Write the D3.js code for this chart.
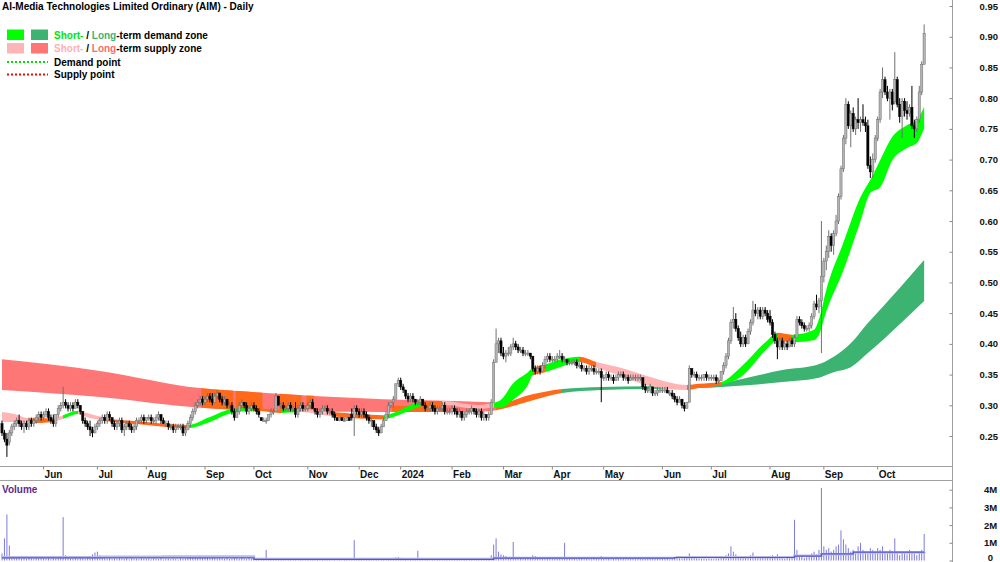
<!DOCTYPE html>
<html><head><meta charset="utf-8">
<script src="https://cdn.jsdelivr.net/npm/d3@7/dist/d3.min.js"></script>
<style>
html,body{margin:0;padding:0;background:#fff;}
svg{display:block;font-family:"Liberation Sans",Arial,sans-serif;}
</style></head><body>
<svg id="c" width="1000" height="562"></svg>
<script>
// ---------- DATA (prices in cents: [open, high, low, close]) ----------
const may23 = [[27,27.5,25,25.5],[25.5,26,24,24.5],[24.5,25.5,21.6,23.5],[24,26,23.5,25.5],[25.5,27,25,26.5],[26.5,27.5,26,27],[27,28,26.5,27.5],[27.5,28.5,26.5,27],[27,27.5,26,26.5],[26.5,27.5,25.5,27],[27,27.5,26,26.5],[26.5,28,26,27.5],[27.5,28,26.5,27],[27,28,26.5,27.5],[27.5,28.5,27,28],[28,29,27.5,28.5],[28.5,29,27.5,28]];
const jun23 = [[28,29,27.5,28.5],[28.5,29.5,28,29],[29,29.5,27.5,28],[28,28.5,27,27.5],[27.5,28.5,26.5,27],[27,28.5,26.5,28.5],[28.5,30,28,29.5],[29.5,30.5,29,30],[30,33,29.5,30.5],[30.5,31,29.5,30],[30,30.5,29,29.5],[29.5,30.5,29,30],[30,30.5,29,29.5],[29.5,31,29.5,30.5],[30.5,31,29.5,30],[30,30,28.5,29],[29,29,27,27.5],[27.5,28,26.5,27],[27,27.5,26,26.5],[26.5,27.5,25,26],[26,26.5,24.8,25.5],[25.5,27,25.5,26.5]];
const jul23 = [[26.5,27.5,26,27],[27,28,26.5,27.5],[27.5,28.5,27,28],[28,28.5,27,27.5],[27.5,29,27,28.5],[28.5,29,27.5,28],[28,28,26.5,27],[27,27.5,26,26.5],[26.5,27.5,26,27],[27,28,26.5,27.5],[27.5,28,25.5,26],[26,27,25,26.5],[26.5,27.5,26,27],[27,27.5,26,26.5],[26.5,27,25.5,26],[26,27,25.5,26.5],[26.5,28,26,27.5],[27.5,28,27,27.5],[27.5,28.5,27,28],[28,28.5,27,27.5]];
const aug23 = [[27.5,28,27,28],[28,28.5,27.5,28],[28,28.5,27,27.5],[27.5,28,27,27.5],[27.5,28.5,27,28],[28,29,27.5,28.5],[28.5,28.5,27,27.5],[27.5,28,27,27],[27,27.5,26.5,27],[27,27.5,26,26.5],[26.5,27,26,26.5],[26.5,27,25.5,26],[26,27,25.5,26.5],[26.5,27,26,26.5],[26.5,27,26,26.5],[26.5,27,25,25.5],[25.5,26.5,25,26],[26,27.5,26,27],[27,28.5,26.5,28],[28,29.5,27.5,29],[29,30.5,28.5,30],[30,31,29.5,30.5],[30.5,31.5,30,31],[31,31.5,30,30.5]];
const sep23 = [[30.5,31.5,30,31],[31,32,30.5,31.5],[31.5,32,30.5,31],[31,32,30,30.5],[30.5,32,30.5,31.5],[31.5,32.5,31,32],[32,32,30.5,31],[31,31.5,30,30.5],[30.5,31.5,30,31],[31,31,29.5,30],[30,30.5,29.5,30],[30,30.5,28.5,29],[29,29.5,27.5,28],[28,29.5,28,29],[29,30.5,28.5,30],[30,31,29.5,30.5],[30.5,30.5,29.5,30],[30,30.5,28.5,29],[29,30,28.5,29.5],[29.5,30.5,29,30]];
const oct23 = [[30,30.5,29,29.5],[29.5,30,28.5,29],[29,29.5,28,28.5],[28,28,27.5,27.5],[27.5,28,27.5,27.5],[27.5,28,27,27.5],[27.5,28.5,27.5,28.5],[28.5,29.5,28,29],[29,29.5,28.5,29],[29,32,29,31.5],[31.5,31.5,30,30],[30,30.5,29.5,30],[30,30.5,29,29.5],[29.5,30,29,29.5],[29.5,30.5,29,30],[30,30.5,29,29.5],[29.5,30,29,29.5],[29.5,30.5,28,28.5],[28.5,30,28,29.5],[29.5,30.5,29,30],[30,30.5,29,29.5],[29.5,30,29,29.5]];
const nov23 = [[29.5,30.5,29,30],[30,31,29.5,30.5],[30.5,31,29.5,29.5],[29.5,29.5,28.5,29],[29,29.5,28,28.5],[28.5,29.5,28,29],[29,30,28.5,29.5],[29.5,30,29,29.5],[29.5,30,28.5,29],[29,29.5,28.5,29],[29,29.5,28,28.5],[28.5,29,27.5,28],[28,28,27.5,27.5],[27.5,28,27.5,28],[28,28,27.5,27.5],[27.5,28,27.5,27.5],[27.5,28,27.5,28],[28,28,27.5,27.5],[28.5,29.5,27.5,28],[28,30,25,29.5],[29.5,30,28.5,29]];
const dec23 = [[29,29.5,28,28.5],[28.5,29.5,28,29],[29,29.5,28,28.5],[28.5,29,27.5,28],[28,28.5,27,27.5],[27.5,28,26.5,27.5],[27.5,27.5,26,26.5],[26.5,27,25.5,26],[26,26.5,25,25.5],[25.5,27,25.5,26.5],[26.5,28,26.5,27.5],[27.5,29,27.5,28.5],[28.5,30.5,28,30],[30,30.5,29.5,30.5],[30.5,31.5,29.5,31],[31,33.5,31,33.5],[33.5,34.5,33,34]];
const jan24 = [[34,34.5,32.5,33],[33,33.5,32,32.5],[32.5,32.5,31,31.5],[31.5,32,30.5,31],[31,32,30.5,31.5],[31.5,32,30.5,31],[31,31,30,30.5],[30.5,31,30,30.5],[30.5,31.5,30,31],[31,31,30,30],[30,30.5,29,29.5],[29.5,30,29,29.5],[29.5,30.5,29,30],[30,30.5,29,29.5],[29.5,30,28.5,29],[29,30,28.5,29.5],[29.5,30,29,29.5],[29.5,30.5,29,30],[30,30.5,28.5,29],[29,29.5,28.5,29],[29,29.5,28.5,29]];
const feb24 = [[29,30,28.5,29.5],[29.5,30,28.5,29],[29,29.5,28,28.5],[28.5,29.5,28,29],[29,29,27.5,28],[28,29,27.5,28.5],[28.5,29.5,28,29],[29,29.5,28.5,29],[29,30,28.5,29.5],[29.5,29.5,28.5,29],[29,29.5,28,28.5],[28.5,29.5,28,29],[29,29.5,27.5,28],[28,29,27.5,28.5],[28.5,28.5,27.5,28],[28,29,27.5,28.5],[28.5,31,28.5,30.5],[30.5,37.5,30.5,37],[37,42.5,37,40],[40,41,38.5,40.5],[40.5,41,38,38.5]];
const mar24 = [[38.5,39.5,37.5,38],[38,39,37,38.5],[38.5,39.5,38,38.5],[38.5,40,38,39.5],[39.5,41,39,40],[40,40.5,39,39.5],[39.5,40,38.5,39],[39,39.5,38.5,39],[39,39.5,38,38.5],[38.5,39,38,38.5],[38.5,39,38,38.5],[38.5,38.5,37.5,38],[38,38,35.5,36],[36,36.5,35,35.5],[35.5,36.5,35,36],[36,36.5,35,35.5],[35.5,37,35.5,36.5],[36.5,38,36,37.5],[37.5,38.5,37,38],[38,38.5,37,37.5]];
const apr24 = [[37.5,38,37,37.5],[37.5,38,37,37.5],[37.5,38.5,37,38],[38,39,37.5,38],[38,38.5,37,37.5],[37.5,38,37,37.5],[37.5,37.5,36.5,37],[37,37.5,36.5,37],[37,37.5,36.5,37],[37,37.5,36.5,37],[37,37.5,36,36.5],[36.5,37,36,36.5],[36.5,37,35.5,36],[36,36.5,35.5,36],[36,36.5,35,35.5],[35.5,36.5,35,36],[36,36.5,35.5,36],[36,36.5,35,35.5],[35.5,36,35,35.5],[35.5,36,35,35.5],[35.5,36,30.5,34.5]];
const may24 = [[34.5,35,34,34.5],[34.5,35.5,34,35],[35,35.5,34,34.5],[34.5,35,34,34.5],[34.5,35,33.5,34],[34,35,34,34.5],[34.5,35.5,34,35],[35,35.5,34.5,35],[35,35.5,34,34.5],[34.5,35,34,34.5],[34.5,35,33.5,34],[34,35,34,34.5],[34.5,35,34,34.5],[34.5,35,34,34.5],[34.5,35,34,34.5],[34.5,35,34,34.5],[34.5,34.5,32.5,33],[33,33.5,32,32.5],[32.5,33,32,32.5],[32.5,33.5,32,33],[33,33,31.5,32],[32,32.5,31.5,32],[32,33,31.5,32.5],[32.5,33,32,32.5]];
const jun24 = [[32.5,33,32,32.5],[32.5,33,32,32.5],[32.5,33,32,32],[32,32.5,31.5,32],[32,32.5,31,31.5],[31.5,32,30.5,31],[31,31.5,30,30.5],[30.5,31.5,30.5,31],[31,31,29.5,30],[30,30.5,29,29.5],[29.5,30.5,29.5,30.5],[30.5,36.5,30.5,36],[36,36,34.5,35],[35,35.5,34.5,35],[35,35.5,34,34.5],[34.5,35,34,34.5],[34.5,35,34,34.5],[34.5,35,34,35],[35,35.5,34,34.5],[34.5,35,34,34.5]];
const jul24 = [[34.5,35,34,34.5],[34.5,35,34,34.5],[34.5,35,33.5,34],[34,34.5,33.5,34],[34,35.5,34,35.5],[35.5,37,35,36.5],[36.5,38.5,36,38],[38,41,37.5,40.5],[40.5,44,40,43.5],[43.5,46,42.5,44],[44,45,42,42.5],[42.5,43,40.5,41],[41,42,39.5,40],[40,41.5,39.5,41],[41,41.5,39.5,40],[40,42.5,40,42],[42,44,41.5,43.5],[43.5,47,43,45.5],[45.5,46.5,44.5,45],[45,46,44,45.5],[45.5,46,44,44.5],[44.5,46,44,45.5],[45.5,46,44.5,45],[45,45.5,43.5,44]];
const aug24 = [[44.5,45.5,43,43.5],[43.5,44,41,41.5],[41.5,42,40,40.5],[40.5,41,37.5,39.5],[39.5,41,39,40.5],[40.5,41,39,39.5],[39.5,40.5,39,40],[40,40.5,39,39.5],[39.5,41,39.5,40.5],[40.5,41,39.5,40],[40,41.5,39.5,41],[41,44.5,41,44],[44,44.5,43,43.5],[43.5,44,42.5,43],[43,43.5,42,42.5],[42.5,43,42,42.5],[42.5,43.5,42,43],[43,45,42.5,44.5],[44.5,47,44,46.5],[46.5,48,45.5,46],[46,47.5,45,47],[47,60,38.5,51]];
const sep24 = [[51,54,50,53.5],[53.5,56,52,55],[55,58.5,54,57.5],[57.5,58,55,56],[56,58.5,54.5,58],[58,61,57.5,60],[60,64.5,59.5,64],[64,69,63.5,68.5],[68.5,74,68,73.5],[73.5,80,72.5,79],[79,79.5,75,75.5],[75.5,78,72,77.5],[77.5,78.5,74.5,75],[75,77,74,76.5],[76.5,80,75,76],[76,77,74.5,76.5],[76.5,79,75.5,76],[76,77,74.5,75.5],[75.5,76.5,68.5,69],[69,70.5,67,68],[68,71,67,70],[70,74,69.5,73.5]];
const oct24 = [[73.5,77,73,76.5],[76.5,81.5,76,81],[81,85,80,83],[83,83.5,80.5,81],[81,82,79.5,80],[80,81.5,76.5,81],[81,81.5,78,79],[79.5,87.5,79,83],[83,83.5,78.5,79],[79,80,76,77],[77,80,73.5,79.5],[79.5,80,77,78],[78,79.5,76.5,77.5],[77.5,79,77,78.5],[78.5,82,75,75.5],[75.5,76.5,73.5,75],[75,77,74.5,76.5],[76.5,82,76,81],[81,86,80.5,85.5],[85.5,92,85.5,90.5]];

// month labels (first label = partial May 2023, not shown)
const monthLabels = ["", "Jun","Jul","Aug","Sep","Oct","Nov","Dec","2024","Feb","Mar","Apr","May","Jun","Jul","Aug","Sep","Oct"];

// volumes, thousands of shares
const volMay23 = [400,1250,2600,850,200,150,120,180,100,150,90,200,120,80,150,100,130];
const volJun23 = [110,90,140,80,120,100,160,200,2450,300,150,120,100,180,90,140,120,80,200,150,350,450];
const volJul23 = [500,300,150,120,100,140,90,110,80,120,100,90,130,70,110,90,100,80,120,100];
const volAug23 = [90,110,70,120,100,80,130,60,90,100,70,110,80,60,120,90,100,150,180,200,160,140,190,170];
const volSep23 = [150,180,120,160,140,110,130,100,90,120,80,100,150,110,90,130,100,80,120,90];
const volOct23 = [70,60,40,30,50,600,80,60,120,90,50,40,60,30,50,70,40,60,50,40,30,60];
const volNov23 = [40,60,30,50,40,30,60,50,40,30,20,40,20,30,20,40,30,20,60,1150,80];
const volDec23 = [50,40,60,30,40,50,30,60,40,70,80,90,120,100,150,180,200];
const volJan24 = [150,120,90,80,100,70,60,550,90,60,50,40,60,30,50,40,60,30,40,50,30];
const volFeb24 = [40,30,50,30,60,40,30,50,40,30,60,40,50,30,40,60,300,900,1250,500,350];
const volMar24 = [300,250,200,150,1050,200,180,150,120,100,140,90,300,250,150,100,120,110,90,80];
const volApr24 = [100,90,120,80,110,1000,150,90,80,100,70,90,110,80,120,90,70,100,80,90,250];
const volMay24 = [100,80,90,70,110,90,80,120,100,70,90,80,100,70,90,80,110,100,200,150,120,90,110,100];
const volJun24 = [90,80,100,70,90,110,80,120,100,150,200,400,250,150,120,100,90,110,80,100];
const volJul24 = [90,80,100,120,200,250,300,400,800,500,350,250,200,150,180,250,300,450,250,200,180,150,200,160];
const volAug24 = [250,300,200,350,150,120,100,150,130,180,2300,600,300,200,150,180,250,400,500,350,600,4100];
const volSep24 = [800,600,700,500,600,800,900,1700,1200,900,700,500,600,400,800,1000,600,500,400,700,600,500];
const volOct24 = [700,600,800,500,400,600,500,1250,400,300,500,400,350,600,500,400,300,500,600,1500];

// volume averages [candle index, thousands]
const volAvgDark  = [[0,150],[66,150],[103,60],[201,130],[275,170],[324,250],[335,370],[348,470],[377,480]];
const volAvgLight = [[0,180],[40,210],[66,230],[103,80],[201,140],[276,185],[324,265],[335,360],[348,455],[377,500]];

// zones: [candle index, top (cents), bottom (cents), type of following segment]
const shortZone = [[0,28.9,27.3,"SS"],[5,28.6,27.3,"SS"],[11,27.9,27.1,"OR"],[21,27.9,27.3,"SS"],[25,28.4,27.8,"SD"],[31,29.1,28.6,"SS"],[33,28.9,28.3,"SS"],[43,27.9,27.4,"OR"],[56,27.4,26.9,"OR"],[76,26.8,26.3,"SD"],[85,28.1,27.3,"SD"],[94,29.4,28.75,"SD"],[103,29.6,29.1,"OR"],[114,29.2,28.75,"SD"],[122,29.4,28.9,"SS"],[135,28.9,28.2,"OR"],[156,28.4,27.7,"SD"],[160,28.75,28.1,"SD"],[167,30.05,29.2,"SD"],[172,30.7,29.9,"OR"],[180,30.7,30.05,"SS"],[195,30.05,29.4,"SS"],[201,30.4,29.6,"SD"],[204,30.9,29.6,"SD"],[209,33.6,30.9,"SD"],[215,35.4,33.3,"SD"],[217,36.1,34.9,"OR"],[222,36.6,35.4,"SD"],[228,37.4,36.2,"SD"],[236,37.9,37.05,"OR"],[243,37.05,36.1,"SS"],[253,36.1,34.8,"SS"],[265,34.6,33.1,"SS"],[280,33.3,32.5,"OR"],[285,33.5,32.8,"OR"],[294,33.8,33.3,"SD"],[302,36.2,34.6,"SD"],[313,40.6,39.3,"SD"],[317,41.8,40.6,"OR"],[323,41.5,40.3,"SD"],[332,42.3,40.6,"SD"],[334,44,41.5,"SD"],[337,48.8,45.3,"SD"],[344,56.5,52,"SD"],[351,63.9,60,"SD"],[355,66.7,64.6,"SD"],[359,69.9,65.5,"SD"],[364,73.7,69.9,"SD"],[370,75.6,71.9,"SD"],[374,76.4,72.7,"SD"],[377,78.6,75.1,"SD"]];
const longZone = [[0,37.5,32.5,"LS"],[40,35.6,31.35,"LS"],[81,32.8,29.6,"LS"],[101,32.2,29.2,"LS"],[156,31.0,28.9,"LS"],[199,30.5,29.05,"LS"],[202,30.2,29.2,"OR"],[216,31.7,30.7,"OR"],[229,32.65,32.0,"LD"],[245,33.0,32.5,"LD"],[265,33.1,32.65,"LD"],[285,33.3,32.8,"LD"],[294,33.6,33.0,"LD"],[306,34.6,33.3,"LD"],[319,35.75,33.8,"LD"],[333,36.55,34.4,"LD"],[340,37.9,35.4,"LD"],[347,40.1,36.2,"LD"],[354,43.4,38.5,"LD"],[360,46.0,40.6,"LD"],[367,49.1,43.2,"LD"],[377,53.65,47.0,"LD"]];
// overlap strips inside long-term zone: [from index, to index, fraction of band height]
const longOverlap = [[82,94,1],[96,106,1],[114,116,1],[117,119,1],[120,122,1],[125,127,1],[160,180,0.5]];

const priceTicks = [25,30,35,40,45,50,55,60,65,70,75,80,85,90,95];
const volTicks = [0,1000,2000,3000,4000];

// ---------- CHART ----------
const zoneColor = {SS:"#ffb5b5", LS:"#ff7676", SD:"#00ff00", LD:"#3cb371", OR:"#ff6a1a"};
const svg = d3.select("#c");
const monthData = [may23,jun23,jul23,aug23,sep23,oct23,nov23,dec23,jan24,feb24,mar24,apr24,may24,jun24,jul24,aug24,sep24,oct24];
const candles = monthData.flat().map((d,i)=>({i,o:d[0],h:d[1],l:d[2],c:d[3]}));
const volumes = [volMay23,volJun23,volJul23,volAug23,volSep23,volOct23,volNov23,volDec23,volJan24,volFeb24,volMar24,volApr24,volMay24,volJun24,volJul24,volAug24,volSep24,volOct24].flat();
const N = candles.length;

const x = d3.scaleLinear().domain([0, N-1]).range([2, 2 + 2.446*(N-1)]);
const yP = d3.scaleLinear().domain([20.12, 95.98]).range([466, 0]);
const yV = d3.scaleLinear().domain([0, 4000]).range([560.5, 489.7]);

const defs = svg.append("defs");
defs.append("clipPath").attr("id","cpP").append("rect").attr("x",0).attr("y",0).attr("width",952).attr("height",466);
defs.append("clipPath").attr("id","cpV").append("rect").attr("x",0).attr("y",481).attr("width",952).attr("height",81);

function makeGrad(id, samples){
  const g = defs.append("linearGradient").attr("id",id).attr("gradientUnits","userSpaceOnUse")
    .attr("x1",0).attr("x2",1000).attr("y1",0).attr("y2",0);
  for(let k=0;k<samples.length-1;k++){
    const col = zoneColor[samples[k][3]];
    g.append("stop").attr("offset", x(samples[k][0])/1000).attr("stop-color",col);
    g.append("stop").attr("offset", x(samples[k+1][0])/1000).attr("stop-color",col);
  }
}
makeGrad("gLong", longZone);
makeGrad("gShort", shortZone);

const plot = svg.append("g").attr("clip-path","url(#cpP)");
const area = d3.area().x(d=>x(d[0])).y0(d=>yP(d[2])).y1(d=>yP(d[1])).curve(d3.curveMonotoneX);
plot.append("path").attr("d", area(longZone)).attr("fill","url(#gLong)");

// overlap strips
longOverlap.forEach((o,k)=>{
  defs.append("clipPath").attr("id","ov"+k).append("rect")
    .attr("x", x(o[0])-1.2).attr("y",0).attr("width", x(o[1])-x(o[0])+2.4).attr("height",466);
  const a = d3.area().x(d=>x(d[0])).y0(d=>yP(d[2])).y1(d=>yP(d[2] + o[2]*(d[1]-d[2]))).curve(d3.curveMonotoneX);
  plot.append("path").attr("d", a(longZone)).attr("fill", zoneColor.OR).attr("clip-path","url(#ov"+k+")");
});

plot.append("path").attr("d", area(shortZone)).attr("fill","url(#gShort)");

// candles
const cg = plot.append("g");
candles.forEach(d=>{
  const up = d.c >= d.o;
  const cx = x(d.i);
  cg.append("line").attr("x1",cx).attr("x2",cx).attr("y1",yP(d.h)).attr("y2",yP(d.l))
    .attr("stroke", up ? "#707070" : "#000").attr("stroke-width",1);
  const top = yP(Math.max(d.o,d.c)), bot = yP(Math.min(d.o,d.c));
  const hgt = Math.max(bot-top, 1);
  cg.append("rect").attr("x",cx-1.1).attr("width",2.2).attr("y",top).attr("height",hgt)
    .attr("fill", up ? "#b4b4b4" : "#000").attr("stroke", up ? "#6e6e6e" : "#000").attr("stroke-width",0.5);
});

// volume
const vg = svg.append("g").attr("clip-path","url(#cpV)");
volumes.forEach((v,i)=>{
  vg.append("line").attr("x1",x(i)).attr("x2",x(i)).attr("y1",yV(0)).attr("y2",yV(v))
    .attr("stroke","#7b7bdc").attr("stroke-width",1);
});
const vLine = d3.line().x(d=>x(d[0])).y(d=>yV(d[1])).curve(d3.curveStepAfter);
vg.append("path").attr("d", vLine(volAvgLight)).attr("fill","none").attr("stroke","#b9b9ec").attr("stroke-width",2.5);
vg.append("path").attr("d", vLine(volAvgDark)).attr("fill","none").attr("stroke","#5555c8").attr("stroke-width",1.2);

// frame lines
svg.append("line").attr("x1",0).attr("x2",952).attr("y1",466.5).attr("y2",466.5).attr("stroke","#a0a0a0");
svg.append("line").attr("x1",0).attr("x2",952).attr("y1",480.5).attr("y2",480.5).attr("stroke","#a0a0a0");
svg.append("line").attr("x1",952.5).attr("x2",952.5).attr("y1",0).attr("y2",562).attr("stroke","#a0a0a0");

// price axis
const pa = svg.append("g").attr("transform","translate(952.5,0)")
  .call(d3.axisRight(yP).tickValues(priceTicks).tickFormat(d=>(d/100).toFixed(2)).tickSizeInner(-3).tickSizeOuter(0).tickPadding(27));
pa.select(".domain").remove();
pa.selectAll(".tick line").attr("stroke","#888");
pa.selectAll("text").attr("font-size","9.5px").attr("font-weight","bold").attr("fill","#111").attr("font-family","Liberation Sans, Arial, sans-serif");

// volume axis
const va = svg.append("g").attr("transform","translate(952.5,0)")
  .call(d3.axisRight(yV).tickValues(volTicks).tickFormat(d=> d===0 ? "0" : (d/1000)+"M").tickSizeInner(-3).tickSizeOuter(0).tickPadding(38));
va.select(".domain").remove();
va.selectAll(".tick line").attr("stroke","#888");
va.selectAll("text").attr("text-anchor","middle").attr("font-size","9.5px").attr("font-weight","bold").attr("fill","#111").attr("font-family","Liberation Sans, Arial, sans-serif");
// keep the "0" label inside the picture
va.selectAll(".tick").filter(d=>d===0).select("text").attr("dy","-0.05em");

// month axis
let start = 0;
monthData.forEach((m,k)=>{
  if(k>0 && monthLabels[k]){
    const tx = x(start);
    svg.append("line").attr("x1",tx).attr("x2",tx).attr("y1",466.5).attr("y2",469.5).attr("stroke","#888");
    svg.append("text").attr("x",tx+1).attr("y",477.5).text(monthLabels[k])
      .attr("font-size","10px").attr("font-weight","bold").attr("fill","#111");
  }
  start += m.length;
});

// title & legend
svg.append("text").attr("x",2).attr("y",10).text("AI-Media Technologies Limited Ordinary (AIM) - Daily")
  .attr("font-size","10px").attr("font-weight","bold").attr("fill","#000");
const lg = svg.append("g").attr("font-size","10px").attr("font-weight","bold");
lg.append("rect").attr("x",7).attr("y",29.5).attr("width",17).attr("height",10.5).attr("fill",zoneColor.SD);
lg.append("rect").attr("x",31).attr("y",29.5).attr("width",17).attr("height",10.5).attr("fill",zoneColor.LD);
lg.append("rect").attr("x",7).attr("y",43).attr("width",17).attr("height",10.5).attr("fill",zoneColor.SS);
lg.append("rect").attr("x",31).attr("y",43).attr("width",17).attr("height",10.5).attr("fill",zoneColor.LS);
const t1 = lg.append("text").attr("x",54).attr("y",38.5);
t1.append("tspan").attr("fill","#00e600").text("Short-");
t1.append("tspan").attr("fill","#000").text(" / ");
t1.append("tspan").attr("fill","#3cb371").text("Long");
t1.append("tspan").attr("fill","#000").text("-term demand zone");
const t2 = lg.append("text").attr("x",54).attr("y",52);
t2.append("tspan").attr("fill","#ffb0b0").text("Short-");
t2.append("tspan").attr("fill","#000").text(" / ");
t2.append("tspan").attr("fill","#ff6b6b").text("Long");
t2.append("tspan").attr("fill","#000").text("-term supply zone");
lg.append("line").attr("x1",7).attr("x2",48).attr("y1",62).attr("y2",62).attr("stroke","#00dd00").attr("stroke-width",2).attr("stroke-dasharray","2,2");
lg.append("line").attr("x1",7).attr("x2",48).attr("y1",74.5).attr("y2",74.5).attr("stroke","#ff0000").attr("stroke-width",2).attr("stroke-dasharray","2,2");
lg.append("text").attr("x",54).attr("y",65.5).attr("fill","#000").text("Demand point");
lg.append("text").attr("x",54).attr("y",78).attr("fill","#000").text("Supply point");

svg.append("text").attr("x",2).attr("y",493).text("Volume").attr("font-size","10px").attr("font-weight","bold").attr("fill","#5e2a8e");
</script>
</body></html>
